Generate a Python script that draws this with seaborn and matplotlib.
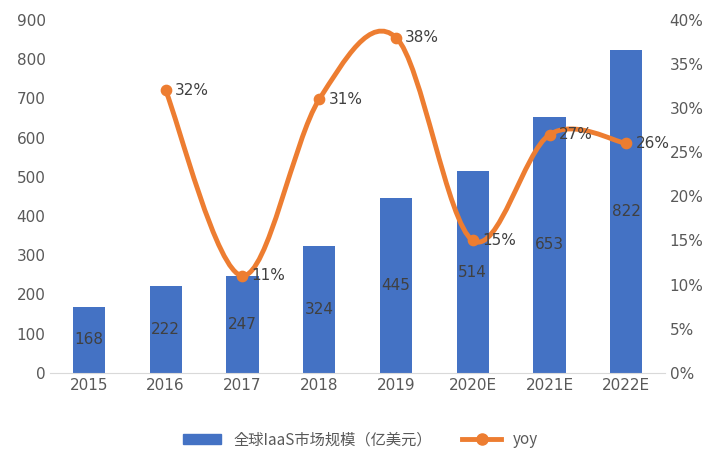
import matplotlib
matplotlib.use("Agg")
import matplotlib.pyplot as plt
import numpy as np
import pandas as pd
import seaborn as sns
from matplotlib import font_manager
from matplotlib.path import Path
from matplotlib.patches import PathPatch, Patch
from matplotlib.lines import Line2D

# pick whichever CJK font the font manager actually knows about
cjk = [f.name for f in font_manager.fontManager.ttflist if "CJK" in f.name]
cjk_name = "Noto Sans CJK SC" if "Noto Sans CJK SC" in cjk else (cjk[0] if cjk else "DejaVu Sans")
plt.rcParams["font.family"] = ["DejaVu Sans", cjk_name]

# ── Data ──────────────────────────────────────────────────────────────────────
years = ["2015", "2016", "2017", "2018", "2019", "2020E", "2021E", "2022E"]
market = [168, 222, 247, 324, 445, 514, 653, 822]
yoy_years = ["2016", "2017", "2018", "2019", "2020E", "2021E", "2022E"]
yoy = [32, 11, 31, 38, 15, 27, 26]

BAR = "#4472C4"
LINE = "#ED7D31"
TXT = "#404040"

df = pd.DataFrame({"year": years, "market": market})

fig = plt.figure(figsize=(7.21, 4.62), dpi=100)
ax = fig.add_axes([0.07, 0.193, 0.852, 0.764])
sns.barplot(data=df, x="year", y="market", color=BAR, width=0.42, saturation=1, ax=ax)
ax.set_ylim(0, 900)
ax.set_yticks(range(0, 901, 100))
ax.set_xlabel("")
ax.set_ylabel("")
for i, v in enumerate(market):
    ax.text(i, v / 2, str(v), ha="center", va="center", color=TXT, fontsize=11)

ax2 = ax.twinx()
ax2.set_ylim(0, 40)
ax2.set_yticks(range(0, 41, 5))
ax2.set_yticklabels([f"{t}%" for t in range(0, 41, 5)])

# smooth line through yoy points (Catmull-Rom -> Bezier)
xs = np.array([years.index(y) for y in yoy_years], dtype=float)
ys = np.array(yoy, dtype=float)
verts = [(xs[0], ys[0])]
codes = [Path.MOVETO]
for i in range(len(xs) - 1):
    p0 = (xs[max(i - 1, 0)], ys[max(i - 1, 0)])
    p1 = (xs[i], ys[i])
    p2 = (xs[i + 1], ys[i + 1])
    p3 = (xs[min(i + 2, len(xs) - 1)], ys[min(i + 2, len(xs) - 1)])
    c1 = (p1[0] + (p2[0] - p0[0]) / 6, p1[1] + (p2[1] - p0[1]) / 6)
    c2 = (p2[0] - (p3[0] - p1[0]) / 6, p2[1] - (p3[1] - p1[1]) / 6)
    verts += [c1, c2, p2]
    codes += [Path.CURVE4] * 3
ax2.add_patch(PathPatch(Path(verts, codes), fill=False, edgecolor=LINE, lw=3.5, zorder=3))
ax2.scatter(xs, ys, s=55, color=LINE, zorder=4)
for x, y in zip(xs, ys):
    ax2.text(x + 0.12, y, f"{int(y)}%", ha="left", va="center", color=TXT, fontsize=11)

for a in (ax, ax2):
    for s in a.spines.values():
        s.set_visible(False)
    a.tick_params(length=0, labelsize=11, colors="#595959")
ax.spines["bottom"].set_visible(True)
ax.spines["bottom"].set_color("#D9D9D9")
ax.set_xlim(-0.5, 7.5)

handles = [Patch(color=BAR), Line2D([0], [0], color=LINE, lw=3.5, marker="o", markersize=8)]
fig.legend(handles, ["全球IaaS市场规模（亿美元）", "yoy"], loc="lower center",
           bbox_to_anchor=(0.5, 0.0), ncol=2, frameon=False,
           prop={"family": cjk_name, "size": 11},
           labelcolor="#595959", handlelength=2.5, columnspacing=2)

fig.savefig("out.png", dpi=100)
